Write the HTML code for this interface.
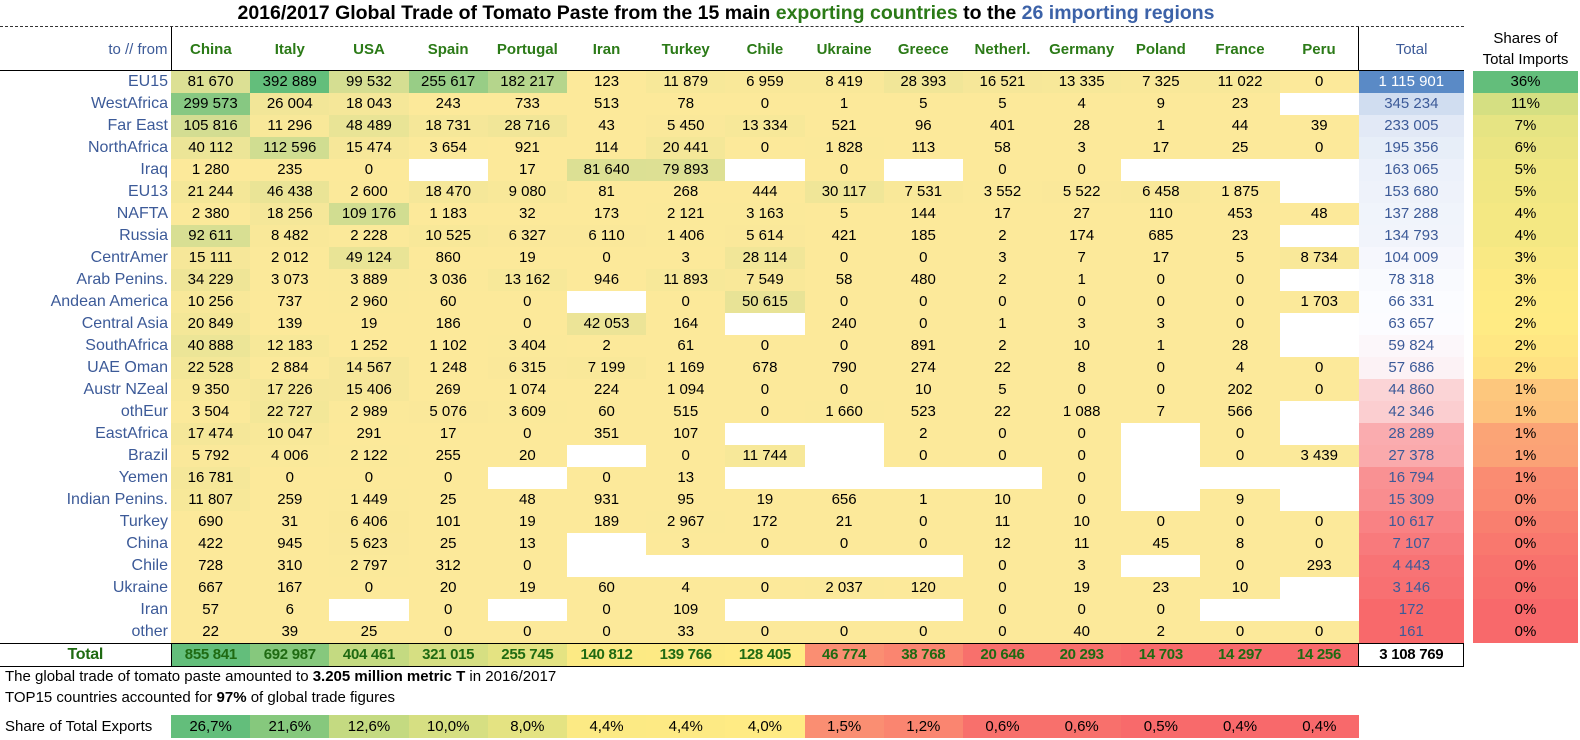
<!DOCTYPE html>
<html><head><meta charset="utf-8">
<style>
*{margin:0;padding:0;box-sizing:border-box}
body{width:1580px;height:740px;background:#fff;font-family:"Liberation Sans",Arial,sans-serif;position:relative;overflow:hidden;color:#000}
#title{position:absolute;left:0;width:1452px;top:2px;text-align:center;font-weight:bold;font-size:19.5px;line-height:23px}
.g{color:#2b7a17}.b{color:#3c62a8}
#dots{position:absolute;left:0;top:26px;width:1464px;border-top:1px dashed #333}
table{border-collapse:collapse;table-layout:fixed;position:absolute}
#main{left:0;top:27px;width:1464px}
#main td{height:22px;padding:0;text-align:center;font-size:15px;line-height:22px;white-space:nowrap;overflow:hidden}
#main tr.h td{height:43px;font-weight:bold;color:#2b7a17;font-size:15px;border-bottom:1px solid #000;padding-top:3px}
#main tr.h td.l{font-weight:normal;color:#3c5a98;border-right:1px solid #000}
#main tr.h td.tt{font-weight:normal;color:#3c5a98;border-left:1px solid #000}
#main td.l{text-align:right;padding-right:3px;color:#3c5a98;font-size:16px}
#main td.t{color:#3c5a98}
#main tr.tot td{border-top:1.5px solid #000;border-bottom:1.5px solid #000;font-weight:bold;color:#1f6a12;height:21px;letter-spacing:-0.3px}
#main tr.tot td.l{text-align:center;padding:0;border-right:1px solid #000;color:#1f6a12}
#main tr.tot td.gt{color:#000;background:#fff;border:1.5px solid #000}
#sh{left:1473px;top:27px;width:105px}
#sh td{height:22px;text-align:center;font-size:15px;line-height:22px;padding:0}
#sh tr.h td{height:44px;line-height:21px;font-size:15px}
.txt{position:absolute;left:5px;font-size:15px;line-height:20px}
#sr{left:0;top:715px;width:1359px}
#sr td{height:23px;text-align:center;font-size:15px;padding:0}
#sr td.l{text-align:left;padding-left:5px}
</style></head><body>
<div id="title">2016/2017 Global Trade of Tomato Paste from the 15 main <span class="g">exporting countries</span> to the <span class="b">26 importing regions</span></div>
<div id="dots"></div>
<table id="main">
<colgroup><col style="width:171px"><col span="15" style="width:79.2px"><col style="width:105px"></colgroup>
<tr class="h"><td class="l">to // from</td><td>China</td><td>Italy</td><td>USA</td><td>Spain</td><td>Portugal</td><td>Iran</td><td>Turkey</td><td>Chile</td><td>Ukraine</td><td>Greece</td><td>Netherl.</td><td>Germany</td><td>Poland</td><td>France</td><td>Peru</td><td class="tt">Total</td></tr>
<tr><td class="l">EU15</td><td class="m">81 670</td><td class="m">392 889</td><td class="m">99 532</td><td class="m">255 617</td><td class="m">182 217</td><td class="m">123</td><td class="m">11 879</td><td class="m">6 959</td><td class="m">8 419</td><td class="m">28 393</td><td class="m">16 521</td><td class="m">13 335</td><td class="m">7 325</td><td class="m">11 022</td><td class="m">0</td><td class="t">1 115 901</td></tr>
<tr><td class="l">WestAfrica</td><td class="m">299 573</td><td class="m">26 004</td><td class="m">18 043</td><td class="m">243</td><td class="m">733</td><td class="m">513</td><td class="m">78</td><td class="m">0</td><td class="m">1</td><td class="m">5</td><td class="m">5</td><td class="m">4</td><td class="m">9</td><td class="m">23</td><td class="m"></td><td class="t">345 234</td></tr>
<tr><td class="l">Far East</td><td class="m">105 816</td><td class="m">11 296</td><td class="m">48 489</td><td class="m">18 731</td><td class="m">28 716</td><td class="m">43</td><td class="m">5 450</td><td class="m">13 334</td><td class="m">521</td><td class="m">96</td><td class="m">401</td><td class="m">28</td><td class="m">1</td><td class="m">44</td><td class="m">39</td><td class="t">233 005</td></tr>
<tr><td class="l">NorthAfrica</td><td class="m">40 112</td><td class="m">112 596</td><td class="m">15 474</td><td class="m">3 654</td><td class="m">921</td><td class="m">114</td><td class="m">20 441</td><td class="m">0</td><td class="m">1 828</td><td class="m">113</td><td class="m">58</td><td class="m">3</td><td class="m">17</td><td class="m">25</td><td class="m">0</td><td class="t">195 356</td></tr>
<tr><td class="l">Iraq</td><td class="m">1 280</td><td class="m">235</td><td class="m">0</td><td class="m"></td><td class="m">17</td><td class="m">81 640</td><td class="m">79 893</td><td class="m"></td><td class="m">0</td><td class="m"></td><td class="m">0</td><td class="m">0</td><td class="m"></td><td class="m"></td><td class="m"></td><td class="t">163 065</td></tr>
<tr><td class="l">EU13</td><td class="m">21 244</td><td class="m">46 438</td><td class="m">2 600</td><td class="m">18 470</td><td class="m">9 080</td><td class="m">81</td><td class="m">268</td><td class="m">444</td><td class="m">30 117</td><td class="m">7 531</td><td class="m">3 552</td><td class="m">5 522</td><td class="m">6 458</td><td class="m">1 875</td><td class="m"></td><td class="t">153 680</td></tr>
<tr><td class="l">NAFTA</td><td class="m">2 380</td><td class="m">18 256</td><td class="m">109 176</td><td class="m">1 183</td><td class="m">32</td><td class="m">173</td><td class="m">2 121</td><td class="m">3 163</td><td class="m">5</td><td class="m">144</td><td class="m">17</td><td class="m">27</td><td class="m">110</td><td class="m">453</td><td class="m">48</td><td class="t">137 288</td></tr>
<tr><td class="l">Russia</td><td class="m">92 611</td><td class="m">8 482</td><td class="m">2 228</td><td class="m">10 525</td><td class="m">6 327</td><td class="m">6 110</td><td class="m">1 406</td><td class="m">5 614</td><td class="m">421</td><td class="m">185</td><td class="m">2</td><td class="m">174</td><td class="m">685</td><td class="m">23</td><td class="m"></td><td class="t">134 793</td></tr>
<tr><td class="l">CentrAmer</td><td class="m">15 111</td><td class="m">2 012</td><td class="m">49 124</td><td class="m">860</td><td class="m">19</td><td class="m">0</td><td class="m">3</td><td class="m">28 114</td><td class="m">0</td><td class="m">0</td><td class="m">3</td><td class="m">7</td><td class="m">17</td><td class="m">5</td><td class="m">8 734</td><td class="t">104 009</td></tr>
<tr><td class="l">Arab Penins.</td><td class="m">34 229</td><td class="m">3 073</td><td class="m">3 889</td><td class="m">3 036</td><td class="m">13 162</td><td class="m">946</td><td class="m">11 893</td><td class="m">7 549</td><td class="m">58</td><td class="m">480</td><td class="m">2</td><td class="m">1</td><td class="m">0</td><td class="m">0</td><td class="m"></td><td class="t">78 318</td></tr>
<tr><td class="l">Andean America</td><td class="m">10 256</td><td class="m">737</td><td class="m">2 960</td><td class="m">60</td><td class="m">0</td><td class="m"></td><td class="m">0</td><td class="m">50 615</td><td class="m">0</td><td class="m">0</td><td class="m">0</td><td class="m">0</td><td class="m">0</td><td class="m">0</td><td class="m">1 703</td><td class="t">66 331</td></tr>
<tr><td class="l">Central Asia</td><td class="m">20 849</td><td class="m">139</td><td class="m">19</td><td class="m">186</td><td class="m">0</td><td class="m">42 053</td><td class="m">164</td><td class="m"></td><td class="m">240</td><td class="m">0</td><td class="m">1</td><td class="m">3</td><td class="m">3</td><td class="m">0</td><td class="m"></td><td class="t">63 657</td></tr>
<tr><td class="l">SouthAfrica</td><td class="m">40 888</td><td class="m">12 183</td><td class="m">1 252</td><td class="m">1 102</td><td class="m">3 404</td><td class="m">2</td><td class="m">61</td><td class="m">0</td><td class="m">0</td><td class="m">891</td><td class="m">2</td><td class="m">10</td><td class="m">1</td><td class="m">28</td><td class="m"></td><td class="t">59 824</td></tr>
<tr><td class="l">UAE Oman</td><td class="m">22 528</td><td class="m">2 884</td><td class="m">14 567</td><td class="m">1 248</td><td class="m">6 315</td><td class="m">7 199</td><td class="m">1 169</td><td class="m">678</td><td class="m">790</td><td class="m">274</td><td class="m">22</td><td class="m">8</td><td class="m">0</td><td class="m">4</td><td class="m">0</td><td class="t">57 686</td></tr>
<tr><td class="l">Austr NZeal</td><td class="m">9 350</td><td class="m">17 226</td><td class="m">15 406</td><td class="m">269</td><td class="m">1 074</td><td class="m">224</td><td class="m">1 094</td><td class="m">0</td><td class="m">0</td><td class="m">10</td><td class="m">5</td><td class="m">0</td><td class="m">0</td><td class="m">202</td><td class="m">0</td><td class="t">44 860</td></tr>
<tr><td class="l">othEur</td><td class="m">3 504</td><td class="m">22 727</td><td class="m">2 989</td><td class="m">5 076</td><td class="m">3 609</td><td class="m">60</td><td class="m">515</td><td class="m">0</td><td class="m">1 660</td><td class="m">523</td><td class="m">22</td><td class="m">1 088</td><td class="m">7</td><td class="m">566</td><td class="m"></td><td class="t">42 346</td></tr>
<tr><td class="l">EastAfrica</td><td class="m">17 474</td><td class="m">10 047</td><td class="m">291</td><td class="m">17</td><td class="m">0</td><td class="m">351</td><td class="m">107</td><td class="m"></td><td class="m"></td><td class="m">2</td><td class="m">0</td><td class="m">0</td><td class="m"></td><td class="m">0</td><td class="m"></td><td class="t">28 289</td></tr>
<tr><td class="l">Brazil</td><td class="m">5 792</td><td class="m">4 006</td><td class="m">2 122</td><td class="m">255</td><td class="m">20</td><td class="m"></td><td class="m">0</td><td class="m">11 744</td><td class="m"></td><td class="m">0</td><td class="m">0</td><td class="m">0</td><td class="m"></td><td class="m">0</td><td class="m">3 439</td><td class="t">27 378</td></tr>
<tr><td class="l">Yemen</td><td class="m">16 781</td><td class="m">0</td><td class="m">0</td><td class="m">0</td><td class="m"></td><td class="m">0</td><td class="m">13</td><td class="m"></td><td class="m"></td><td class="m"></td><td class="m"></td><td class="m">0</td><td class="m"></td><td class="m"></td><td class="m"></td><td class="t">16 794</td></tr>
<tr><td class="l">Indian Penins.</td><td class="m">11 807</td><td class="m">259</td><td class="m">1 449</td><td class="m">25</td><td class="m">48</td><td class="m">931</td><td class="m">95</td><td class="m">19</td><td class="m">656</td><td class="m">1</td><td class="m">10</td><td class="m">0</td><td class="m"></td><td class="m">9</td><td class="m"></td><td class="t">15 309</td></tr>
<tr><td class="l">Turkey</td><td class="m">690</td><td class="m">31</td><td class="m">6 406</td><td class="m">101</td><td class="m">19</td><td class="m">189</td><td class="m">2 967</td><td class="m">172</td><td class="m">21</td><td class="m">0</td><td class="m">11</td><td class="m">10</td><td class="m">0</td><td class="m">0</td><td class="m">0</td><td class="t">10 617</td></tr>
<tr><td class="l">China</td><td class="m">422</td><td class="m">945</td><td class="m">5 623</td><td class="m">25</td><td class="m">13</td><td class="m"></td><td class="m">3</td><td class="m">0</td><td class="m">0</td><td class="m">0</td><td class="m">12</td><td class="m">11</td><td class="m">45</td><td class="m">8</td><td class="m">0</td><td class="t">7 107</td></tr>
<tr><td class="l">Chile</td><td class="m">728</td><td class="m">310</td><td class="m">2 797</td><td class="m">312</td><td class="m">0</td><td class="m"></td><td class="m"></td><td class="m"></td><td class="m"></td><td class="m"></td><td class="m">0</td><td class="m">3</td><td class="m"></td><td class="m">0</td><td class="m">293</td><td class="t">4 443</td></tr>
<tr><td class="l">Ukraine</td><td class="m">667</td><td class="m">167</td><td class="m">0</td><td class="m">20</td><td class="m">19</td><td class="m">60</td><td class="m">4</td><td class="m">0</td><td class="m">2 037</td><td class="m">120</td><td class="m">0</td><td class="m">19</td><td class="m">23</td><td class="m">10</td><td class="m"></td><td class="t">3 146</td></tr>
<tr><td class="l">Iran</td><td class="m">57</td><td class="m">6</td><td class="m"></td><td class="m">0</td><td class="m"></td><td class="m">0</td><td class="m">109</td><td class="m"></td><td class="m"></td><td class="m"></td><td class="m">0</td><td class="m">0</td><td class="m">0</td><td class="m"></td><td class="m"></td><td class="t">172</td></tr>
<tr><td class="l">other</td><td class="m">22</td><td class="m">39</td><td class="m">25</td><td class="m">0</td><td class="m">0</td><td class="m">0</td><td class="m">33</td><td class="m">0</td><td class="m">0</td><td class="m">0</td><td class="m">0</td><td class="m">40</td><td class="m">2</td><td class="m">0</td><td class="m">0</td><td class="t">161</td></tr>
<tr class="tot"><td class="l">Total</td><td class="tr">855 841</td><td class="tr">692 987</td><td class="tr">404 461</td><td class="tr">321 015</td><td class="tr">255 745</td><td class="tr">140 812</td><td class="tr">139 766</td><td class="tr">128 405</td><td class="tr">46 774</td><td class="tr">38 768</td><td class="tr">20 646</td><td class="tr">20 293</td><td class="tr">14 703</td><td class="tr">14 297</td><td class="tr">14 256</td><td class="gt">3 108 769</td></tr>
</table>
<table id="sh">
<tr class="h"><td>Shares of<br>Total Imports</td></tr>
<tr><td class="s">36%</td></tr><tr><td class="s">11%</td></tr><tr><td class="s">7%</td></tr><tr><td class="s">6%</td></tr><tr><td class="s">5%</td></tr><tr><td class="s">5%</td></tr><tr><td class="s">4%</td></tr><tr><td class="s">4%</td></tr><tr><td class="s">3%</td></tr><tr><td class="s">3%</td></tr><tr><td class="s">2%</td></tr><tr><td class="s">2%</td></tr><tr><td class="s">2%</td></tr><tr><td class="s">2%</td></tr><tr><td class="s">1%</td></tr><tr><td class="s">1%</td></tr><tr><td class="s">1%</td></tr><tr><td class="s">1%</td></tr><tr><td class="s">1%</td></tr><tr><td class="s">0%</td></tr><tr><td class="s">0%</td></tr><tr><td class="s">0%</td></tr><tr><td class="s">0%</td></tr><tr><td class="s">0%</td></tr><tr><td class="s">0%</td></tr><tr><td class="s">0%</td></tr>
</table>
<div class="txt" style="top:667px">The global trade of tomato paste amounted to <b>3.205 million metric T</b> in 2016/2017</div>
<div class="txt" style="top:688px">TOP15 countries accounted for <b>97%</b> of global trade figures</div>
<table id="sr">
<colgroup><col style="width:171px"><col span="15" style="width:79.2px"></colgroup>
<tr><td class="l">Share of Total Exports</td><td class="sr">26,7%</td><td class="sr">21,6%</td><td class="sr">12,6%</td><td class="sr">10,0%</td><td class="sr">8,0%</td><td class="sr">4,4%</td><td class="sr">4,4%</td><td class="sr">4,0%</td><td class="sr">1,5%</td><td class="sr">1,2%</td><td class="sr">0,6%</td><td class="sr">0,6%</td><td class="sr">0,5%</td><td class="sr">0,4%</td><td class="sr">0,4%</td></tr>
</table>
<script>
function hx(h){return [parseInt(h.substr(1,2),16),parseInt(h.substr(3,2),16),parseInt(h.substr(5,2),16)];}
function mix(a,b,t){t=Math.max(0,Math.min(1,t));a=hx(a);b=hx(b);return 'rgb('+a.map(function(v,i){return Math.round(v+(b[i]-v)*t)}).join(',')+')';}
function num(s){return parseFloat(s.replace(/\s/g,'').replace(',','.'));}
function three(v,min,mid,max,lo,md,hi){return v>=mid?mix(md,hi,(v-mid)/(max-mid)):mix(md,lo,(mid-v)/(mid-min));}
document.querySelectorAll('td.m').forEach(function(td){var t=td.textContent.trim();if(t===''){td.style.background='#fff';return;}td.style.background=mix('#fce99a','#63be7b',num(t)/392889);});
var tc=document.querySelectorAll('td.t'),tv=[];tc.forEach(function(td){tv.push(num(td.textContent))});
tc.forEach(function(td,i){var v=tv[i];td.style.background=three(v,161,61740,1115901,'#f8696b','#fcfcff','#5a8ac6');if(v>1e6)td.style.color='#fff';});
document.querySelectorAll('td.s').forEach(function(td,i){td.style.background=three(tv[i],161,61740,1115901,'#f8696b','#ffeb84','#63be7b');});
var trs=document.querySelectorAll('td.tr'),srs=document.querySelectorAll('td.sr');
trs.forEach(function(td,i){var c=three(num(td.textContent),14256,128405,855841,'#f8696b','#ffeb84','#63be7b');td.style.background=c;srs[i].style.background=c;});
</script>
</body></html>
